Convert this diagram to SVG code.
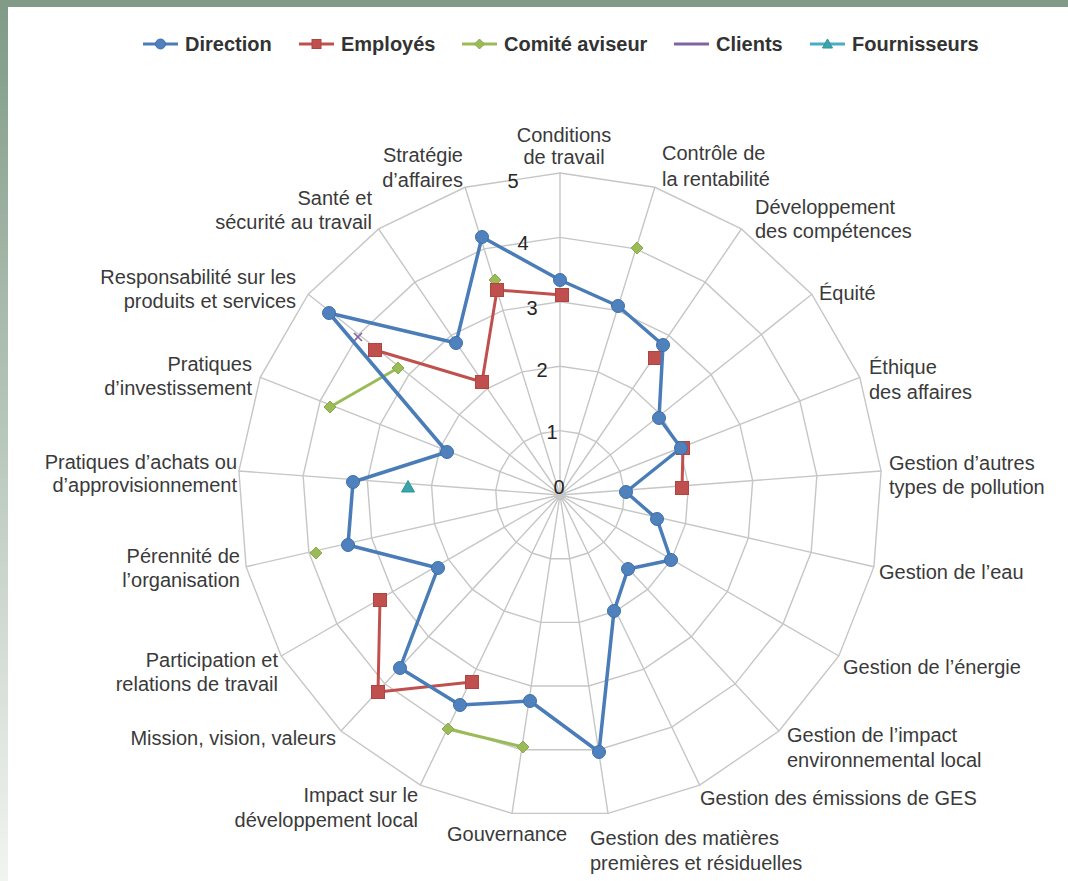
<svg xmlns="http://www.w3.org/2000/svg" xmlns:xlink="http://www.w3.org/1999/xlink" width="1068" height="881" viewBox="0 0 1068 881">
  <style>
    .lbl { font-family: "Liberation Sans", Arial, sans-serif; font-size: 20px; fill: #3a3a3a; }
    .tick { font-family: "Liberation Sans", Arial, sans-serif; font-size: 20px; fill: #262626; text-anchor: middle; }
    .leg { font-family: "Liberation Sans", Arial, sans-serif; font-size: 20px; font-weight: bold; fill: #333333; }
    .end { text-anchor: end; }
    .mid { text-anchor: middle; }
    .grid { fill: none; stroke: #c6c6c6; }
    .dir-line { fill: none; stroke: #4a7cb8; stroke-width: 3.5; stroke-linejoin: round; }
    .dir-mk { fill: #4f81bd; stroke: #3f6fab; stroke-width: 1; }
    .emp-line { fill: none; stroke: #c0504d; stroke-width: 3; stroke-linejoin: round; }
    .emp-mk { fill: #c0504d; stroke: #b04440; stroke-width: 1; }
    .com-line { fill: none; stroke: #9bbb59; stroke-width: 3; stroke-linejoin: round; }
    .com-mk { fill: #9bbb59; stroke: #8aa94b; stroke-width: 1; }
    .cli-mk { fill: none; stroke: #8064a2; stroke-width: 1.6; }
    .fou-mk { fill: #3aa5a8; stroke: #2e9497; stroke-width: 1; }
  </style>
  <defs>
    <linearGradient id="sideband" x1="0" y1="0" x2="0" y2="1">
      <stop offset="0" stop-color="#7f9a86"/>
      <stop offset="0.45" stop-color="#b3c3b6"/>
      <stop offset="1" stop-color="#f2f4f2"/>
    </linearGradient>
    <!-- ring for value 1 (radius 64.4), scaled for the other rings -->
    <polygon id="ring" points="0,-64.4 18.98,-61.54 36.28,-53.21 50.35,-40.15 59.95,-23.53 64.22,-4.81 62.79,14.33 55.77,32.2 43.8,47.21 27.94,58.02 9.6,63.68 -9.6,63.68 -27.94,58.02 -43.8,47.21 -55.77,32.2 -62.79,14.33 -64.22,-4.81 -59.95,-23.53 -50.35,-40.15 -36.28,-53.21 -18.98,-61.54"/>
    <circle id="m-dir" r="6.5"/>
    <rect id="m-emp" x="-6.5" y="-6.5" width="13" height="13"/>
    <polygon id="m-com" points="0,-6 6,0 0,6 -6,0"/>
    <polygon id="m-fou" points="0,-6.5 6.5,5 -6.5,5"/>
  </defs>

  <!-- page background -->
  <g id="background">
    <rect x="0" y="0" width="1068" height="881" fill="#ffffff"/>
    <rect x="0" y="0" width="8" height="881" fill="url(#sideband)"/>
    <rect x="0" y="0" width="1068" height="7" fill="#819b87"/>
  </g>

  <!-- legend -->
  <g id="legend">
    <g id="legend-direction">
      <line x1="143" y1="44" x2="178" y2="44" stroke="#4a7cb8" stroke-width="3"/>
      <circle cx="160.5" cy="44" r="5" class="dir-mk"/>
      <text x="185" y="51" class="leg">Direction</text>
    </g>
    <g id="legend-employes">
      <line x1="299" y1="44" x2="334" y2="44" stroke="#c0504d" stroke-width="3"/>
      <rect x="312" y="39.5" width="9" height="9" class="emp-mk"/>
      <text x="341" y="51" class="leg">Employés</text>
    </g>
    <g id="legend-comite">
      <line x1="462" y1="44" x2="497" y2="44" stroke="#9bbb59" stroke-width="3"/>
      <polygon points="479.5,39 484.5,44 479.5,49 474.5,44" class="com-mk"/>
      <text x="504" y="51" class="leg">Comité aviseur</text>
    </g>
    <g id="legend-clients">
      <line x1="674" y1="44" x2="709" y2="44" stroke="#8064a2" stroke-width="3"/>
      <text x="716" y="51" class="leg">Clients</text>
    </g>
    <g id="legend-fournisseurs">
      <line x1="810" y1="44" x2="845" y2="44" stroke="#4bacc6" stroke-width="3"/>
      <polygon points="827.5,39 832.5,48 822.5,48" class="fou-mk"/>
      <text x="852" y="51" class="leg">Fournisseurs</text>
    </g>
  </g>

  <!-- radar grid: 5 rings and 21 spokes, centre (560,495) -->
  <g id="grid" class="grid">
    <use href="#ring" transform="translate(560 495) scale(1)" stroke-width="1.4"/>
    <use href="#ring" transform="translate(560 495) scale(2)" stroke-width="0.7"/>
    <use href="#ring" transform="translate(560 495) scale(3)" stroke-width="0.467"/>
    <use href="#ring" transform="translate(560 495) scale(4)" stroke-width="0.35"/>
    <use href="#ring" transform="translate(560 495) scale(5)" stroke-width="0.28"/>
    <path stroke-width="1.4" d="M560 495L560 173M560 495L654.9 187.3M560 495L741.4 229M560 495L811.8 294.3M560 495L859.8 377.4M560 495L881.1 471M560 495L874 566.7M560 495L838.9 656M560 495L779 731.1M560 495L699.7 785.1M560 495L608 813.4M560 495L512 813.4M560 495L420.3 785.1M560 495L341 731.1M560 495L281.2 656M560 495L246.1 566.7M560 495L238.9 471M560 495L260.3 377.4M560 495L308.3 294.3M560 495L378.6 229M560 495L465.1 187.3"/>
  </g>

  <!-- scale values -->
  <g id="scale">
    <text x="513" y="188" class="tick">5</text>
    <text x="523" y="250" class="tick">4</text>
    <text x="532" y="315" class="tick">3</text>
    <text x="542" y="377" class="tick">2</text>
    <text x="552" y="439" class="tick">1</text>
    <text x="559" y="494" class="tick">0</text>
  </g>

  <!-- axis labels -->
  <g id="axis-labels" class="lbl">
    <g id="ax-conditions"><text x="564" y="142" class="mid">Conditions</text><text x="564" y="164" class="mid">de travail</text></g>
    <g id="ax-controle"><text x="662" y="160">Contrôle de</text><text x="662" y="186">la rentabilité</text></g>
    <g id="ax-developpement"><text x="755" y="214">Développement</text><text x="755" y="238">des compétences</text></g>
    <g id="ax-equite"><text x="819" y="300">Équité</text></g>
    <g id="ax-ethique"><text x="869" y="374">Éthique</text><text x="869" y="399">des affaires</text></g>
    <g id="ax-pollution"><text x="889" y="470">Gestion d’autres</text><text x="889" y="494">types de pollution</text></g>
    <g id="ax-eau"><text x="879" y="579">Gestion de l’eau</text></g>
    <g id="ax-energie"><text x="843" y="674">Gestion de l’énergie</text></g>
    <g id="ax-impact-env"><text x="787" y="742">Gestion de l’impact</text><text x="787" y="767">environnemental local</text></g>
    <g id="ax-ges"><text x="700" y="805">Gestion des émissions de GES</text></g>
    <g id="ax-matieres"><text x="590" y="845">Gestion des matières</text><text x="590" y="870">premières et résiduelles</text></g>
    <g id="ax-gouvernance"><text x="447" y="841">Gouvernance</text></g>
    <g id="ax-impact-local"><text x="418" y="802" class="end">Impact sur le</text><text x="418" y="827" class="end">développement local</text></g>
    <g id="ax-mission"><text x="336" y="745" class="end">Mission, vision, valeurs</text></g>
    <g id="ax-participation"><text x="278" y="667" class="end">Participation et</text><text x="278" y="691" class="end">relations de travail</text></g>
    <g id="ax-perennite"><text x="240" y="563" class="end">Pérennité de</text><text x="240" y="587" class="end">l’organisation</text></g>
    <g id="ax-achats"><text x="237" y="469" class="end">Pratiques d’achats ou</text><text x="237" y="492" class="end">d’approvisionnement</text></g>
    <g id="ax-investissement"><text x="252" y="371" class="end">Pratiques</text><text x="252" y="395" class="end">d’investissement</text></g>
    <g id="ax-responsabilite"><text x="296" y="284" class="end">Responsabilité sur les</text><text x="296" y="308" class="end">produits et services</text></g>
    <g id="ax-sante"><text x="372" y="205" class="end">Santé et</text><text x="372" y="229" class="end">sécurité au travail</text></g>
    <g id="ax-strategie"><text x="463" y="162" class="end">Stratégie</text><text x="463" y="187" class="end">d’affaires</text></g>
  </g>

  <!-- data series -->
  <g id="series">
    <g id="series-comite">
      <polyline class="com-line" points="330,407 398,368"/>
      <polyline class="com-line" points="523,747 448,729"/>
      <use href="#m-com" class="com-mk" x="637" y="248"/>
      <use href="#m-com" class="com-mk" x="495" y="280"/>
      <use href="#m-com" class="com-mk" x="316" y="553"/>
      <use href="#m-com" class="com-mk" x="330" y="407"/>
      <use href="#m-com" class="com-mk" x="398" y="368"/>
      <use href="#m-com" class="com-mk" x="523" y="747"/>
      <use href="#m-com" class="com-mk" x="448" y="729"/>
    </g>
    <g id="series-employes">
      <polyline class="emp-line" points="375,350 482,382 497,290 562,295"/>
      <polyline class="emp-line" points="683,448 682,488"/>
      <polyline class="emp-line" points="472,682 378,692 380,600"/>
      <use href="#m-emp" class="emp-mk" x="375" y="350"/>
      <use href="#m-emp" class="emp-mk" x="482" y="382"/>
      <use href="#m-emp" class="emp-mk" x="497" y="290"/>
      <use href="#m-emp" class="emp-mk" x="562" y="295"/>
      <use href="#m-emp" class="emp-mk" x="655" y="358"/>
      <use href="#m-emp" class="emp-mk" x="683" y="448"/>
      <use href="#m-emp" class="emp-mk" x="682" y="488"/>
      <use href="#m-emp" class="emp-mk" x="472" y="682"/>
      <use href="#m-emp" class="emp-mk" x="378" y="692"/>
      <use href="#m-emp" class="emp-mk" x="380" y="600"/>
    </g>
    <g id="series-direction">
      <polygon class="dir-line" points="560,280 618,306 663,345 659,418 681,448 626,492 657,519 671,560 628,569 614,611 599,752 530,701 460,705 400,668 438,568 348,545 353,482 447,452 329,313 456,343 482,237"/>
      <use href="#m-dir" class="dir-mk" x="560" y="280"/>
      <use href="#m-dir" class="dir-mk" x="618" y="306"/>
      <use href="#m-dir" class="dir-mk" x="663" y="345"/>
      <use href="#m-dir" class="dir-mk" x="659" y="418"/>
      <use href="#m-dir" class="dir-mk" x="681" y="448"/>
      <use href="#m-dir" class="dir-mk" x="626" y="492"/>
      <use href="#m-dir" class="dir-mk" x="657" y="519"/>
      <use href="#m-dir" class="dir-mk" x="671" y="560"/>
      <use href="#m-dir" class="dir-mk" x="628" y="569"/>
      <use href="#m-dir" class="dir-mk" x="614" y="611"/>
      <use href="#m-dir" class="dir-mk" x="599" y="752"/>
      <use href="#m-dir" class="dir-mk" x="530" y="701"/>
      <use href="#m-dir" class="dir-mk" x="460" y="705"/>
      <use href="#m-dir" class="dir-mk" x="400" y="668"/>
      <use href="#m-dir" class="dir-mk" x="438" y="568"/>
      <use href="#m-dir" class="dir-mk" x="348" y="545"/>
      <use href="#m-dir" class="dir-mk" x="353" y="482"/>
      <use href="#m-dir" class="dir-mk" x="447" y="452"/>
      <use href="#m-dir" class="dir-mk" x="329" y="313"/>
      <use href="#m-dir" class="dir-mk" x="456" y="343"/>
      <use href="#m-dir" class="dir-mk" x="482" y="237"/>
    </g>
    <g id="series-clients">
      <path class="cli-mk" d="M354 333L362 341M362 333L354 341"/>
    </g>
    <g id="series-fournisseurs">
      <use href="#m-fou" class="fou-mk" x="408" y="487"/>
    </g>
  </g>
</svg>
